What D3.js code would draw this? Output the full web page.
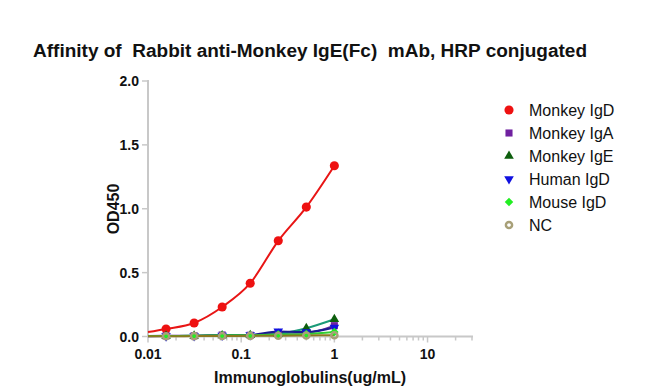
<!DOCTYPE html>
<html><head><meta charset="utf-8">
<script src="https://cdn.jsdelivr.net/npm/d3@7"></script>
<style>
html,body{margin:0;padding:0;background:#fff;}
svg{display:block;font-family:"Liberation Sans",Arial,sans-serif;}
</style></head>
<body><svg id="c" width="653" height="392"></svg>
<script>
const title = "Affinity of  Rabbit anti-Monkey IgE(Fc)  mAb, HRP conjugated";
const xLabel = "Immunoglobulins(ug/mL)";
const yLabel = "OD450";
const concentrations = [0.015625, 0.03125, 0.0625, 0.125, 0.25, 0.5, 1];
const seriesNames = ["Monkey IgD", "Monkey IgA", "Monkey IgE", "Human IgD", "Mouse IgD", "NC"];
const monkeyIgD = [0.059, 0.106, 0.231, 0.417, 0.749, 1.013, 1.337];
const monkeyIgA = [0.005, 0.006, 0.012, 0.010, 0.030, 0.030, 0.085];
const monkeyIgE = [0.004, 0.005, 0.008, 0.010, 0.020, 0.065, 0.135];
const humanIgD  = [0.003, 0.004, 0.008, 0.012, 0.040, 0.035, 0.070];
const mouseIgD  = [0.004, 0.005, 0.010, 0.010, 0.015, 0.020, 0.035];
const nc        = [0.002, 0.003, 0.004, 0.005, 0.006, 0.008, 0.010];
// value of each fitted curve at the left end of the axis (0.01)
const fitStart = [0.035, 0.004, 0.003, 0.002, 0.003, 0.001];
const xTickValues = [0.01, 0.1, 1, 10];
const xTickLabels = ["0.01", "0.1", "1", "10"];
const yTickValues = [0, 0.5, 1.0, 1.5, 2.0];
const yTickLabels = ["0.0", "0.5", "1.0", "1.5", "2.0"];
const xDomain = [0.01, 30];
const yDomain = [0, 2];

const allValues = [monkeyIgD, monkeyIgA, monkeyIgE, humanIgD, mouseIgD, nc];
const colors = ["#ee1111", "#7020a0", "#0d5e0d", "#1010e0", "#22ee22", "#a8a078"];
const lineColors = ["#e81515", "#5a2a9a", "#1a9a78", "#1a1a90", "#33cc33", "#8a7a20"];
const symbols = [d3.symbolCircle, d3.symbolSquare, d3.symbolTriangle, d3.symbolTriangle, d3.symbolSquare, d3.symbolCircle];
const symSizes = [65, 50, 40, 40, 36, 30];
const rotations = [0, 0, 0, 180, 45, 0];

const svg = d3.select("#c");
const x = d3.scaleLog().domain(xDomain).range([148, 472]);
const y = d3.scaleLinear().domain(yDomain).range([336.5, 81]);
const axisColor = "#c8c8c8";

svg.append("text").attr("x", 33).attr("y", 57).attr("font-size", 18).attr("font-weight", "bold")
  .attr("fill", "#111").style("white-space", "pre")
  .attr("textLength", 554).attr("lengthAdjust", "spacingAndGlyphs").text(title);

// x axis
const minorTicks = [];
[0.01, 0.1, 1, 10].forEach(d => { for (let k = 1; k <= 9; k++) { const v = d * k; if (v <= 30.0001) minorTicks.push(v); } });
const gx = svg.append("g");
gx.append("line").attr("x1", x(xDomain[0]) - 1).attr("x2", x(xDomain[1]) + 1)
  .attr("y1", y(0)).attr("y2", y(0)).attr("stroke", axisColor).attr("stroke-width", 2);
gx.selectAll(".mt").data(minorTicks).join("line")
  .attr("x1", d => x(d)).attr("x2", d => x(d)).attr("y1", y(0)).attr("y2", d => y(0) + (xTickValues.includes(d) ? 6 : 4))
  .attr("stroke", axisColor).attr("stroke-width", 1.5);
gx.selectAll(".xl").data(xTickValues).join("text")
  .attr("x", d => x(d)).attr("y", 359).attr("text-anchor", "middle")
  .attr("font-size", 14).attr("font-weight", "bold").attr("fill", "#111")
  .text((d, i) => xTickLabels[i]);

// y axis
const gy = svg.append("g");
gy.append("line").attr("x1", x(xDomain[0])).attr("x2", x(xDomain[0]))
  .attr("y1", y(2) - 1).attr("y2", y(0) + 1).attr("stroke", axisColor).attr("stroke-width", 2);
gy.selectAll(".yt").data(yTickValues).join("line")
  .attr("x1", x(xDomain[0]) - 6).attr("x2", x(xDomain[0])).attr("y1", d => y(d)).attr("y2", d => y(d))
  .attr("stroke", axisColor).attr("stroke-width", 1.5);
gy.selectAll(".yl").data(yTickValues).join("text")
  .attr("x", 139).attr("y", d => y(d) + 5).attr("text-anchor", "end")
  .attr("font-size", 14).attr("font-weight", "bold").attr("fill", "#111")
  .text((d, i) => yTickLabels[i]);

svg.append("text").attr("x", 310).attr("y", 383).attr("text-anchor", "middle")
  .attr("font-size", 16).attr("font-weight", "bold").attr("fill", "#111").text(xLabel);
svg.append("text").attr("transform", "translate(119,209) rotate(-90)").attr("text-anchor", "middle")
  .attr("font-size", 16).attr("font-weight", "bold").attr("fill", "#111").text(yLabel);

// curves
const line = d3.line().x(d => x(d[0])).y(d => y(d[1])).curve(d3.curveMonotoneX);
allValues.forEach((vals, i) => {
  const pts = [[xDomain[0], fitStart[i]]].concat(concentrations.map((c, j) => [c, vals[j]]));
  svg.append("path").attr("d", line(pts)).attr("fill", "none")
    .attr("stroke", lineColors[i]).attr("stroke-width", 2);
});

// points
function drawSym(g, i, cx, cy) {
  const p = g.append("path").attr("d", d3.symbol().type(symbols[i]).size(symSizes[i])())
    .attr("transform", `translate(${cx},${cy}) rotate(${rotations[i]})`);
  if (i === 5) p.attr("fill", "none").attr("stroke", colors[i]).attr("stroke-width", 2.5);
  else p.attr("fill", colors[i]);
}
allValues.forEach((vals, i) => {
  const g = svg.append("g");
  concentrations.forEach((c, j) => drawSym(g, i, x(c), y(vals[j])));
});

// legend
const lg = svg.append("g");
seriesNames.forEach((n, i) => {
  const yy = 110 + i * 23;
  drawSym(lg, i, 509, yy);
  lg.append("text").attr("x", 529).attr("y", yy + 5.5).attr("font-size", 16).attr("fill", "#111").text(n);
});
</script></body></html>
